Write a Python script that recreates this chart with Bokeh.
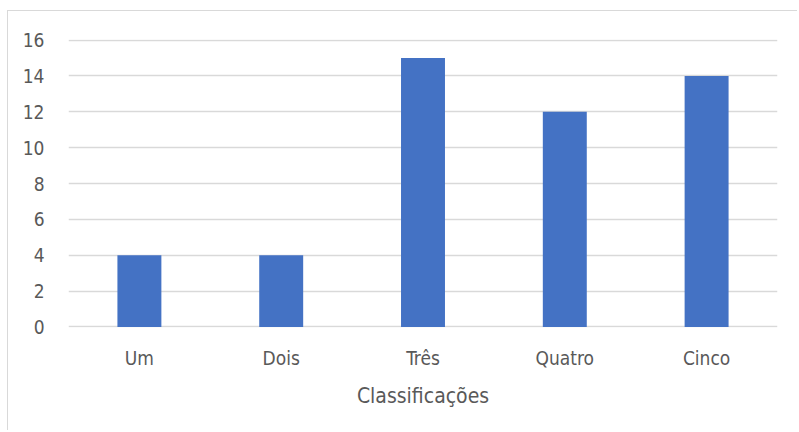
from bokeh.plotting import figure
from bokeh.models import Range1d, FactorRange, ColumnDataSource
from bokeh.embed import file_html
from bokeh.resources import INLINE

categories = ["Um", "Dois", "Três", "Quatro", "Cinco"]
values = [4, 4, 15, 12, 14]
y_ticks = [0, 2, 4, 6, 8, 10, 12, 14, 16]
x_title = "Classificações"

FONT = "DejaVu Sans Condensed"
TXT = "#595959"
GRID = "#d9d9d9"

src = ColumnDataSource(data=dict(cat=categories, val=values))

p = figure(width=790, height=420, x_range=FactorRange(*categories, range_padding=0),
           y_range=Range1d(-0.03, 16.03), output_backend="svg", toolbar_location=None,
           min_border_left=60, min_border_right=21, min_border_top=28, min_border_bottom=104)
p.styles = {"margin-left": "7px", "margin-top": "10px",
            "border-left": "1px solid #d9d9d9", "border-top": "1px solid #d9d9d9"}

p.vbar(x="cat", top="val", width=0.31, source=src, fill_color="#4472C4", line_color=None)

p.outline_line_color = None
p.xgrid.grid_line_color = None
p.ygrid.grid_line_color = GRID
p.ygrid.grid_line_width = 1.3
p.yaxis.ticker = y_ticks
for ax in (p.xaxis[0], p.yaxis[0]):
    ax.axis_line_color = None
    ax.major_tick_line_color = None
    ax.minor_tick_line_color = None
    ax.major_label_text_font = FONT
    ax.major_label_text_font_size = "19px"
    ax.major_label_text_color = TXT
p.yaxis.major_label_standoff = 18
p.xaxis.major_label_standoff = 13
p.xaxis.axis_label = x_title
p.xaxis.axis_label_text_font = FONT
p.xaxis.axis_label_text_font_size = "21px"
p.xaxis.axis_label_text_font_style = "normal"
p.xaxis.axis_label_text_color = TXT
p.xaxis.axis_label_standoff = 12

open("out.html", "w").write(file_html(p, INLINE))
